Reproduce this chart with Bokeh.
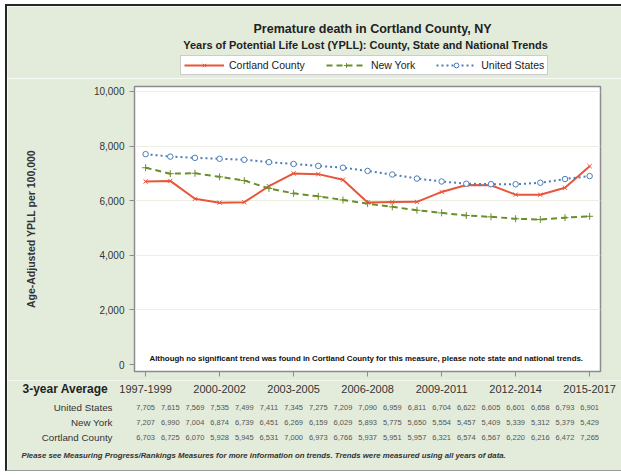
from bokeh.plotting import figure
from bokeh.layouts import column
from bokeh.models import (Range1d, FixedTicker, Legend, LegendItem,
                          NumeralTickFormatter, ColumnDataSource)
from bokeh.embed import file_html
from bokeh.resources import INLINE

periods = ["1997-1999", "1998-2000", "1999-2001", "2000-2002", "2001-2003",
           "2002-2004", "2003-2005", "2004-2006", "2005-2007", "2006-2008",
           "2007-2009", "2008-2010", "2009-2011", "2010-2012", "2011-2013",
           "2012-2014", "2013-2015", "2014-2016", "2015-2017"]
united_states = [7705, 7615, 7569, 7535, 7499, 7411, 7345, 7275, 7209, 7090,
                 6959, 6811, 6704, 6622, 6605, 6601, 6658, 6793, 6901]
new_york = [7207, 6990, 7004, 6874, 6739, 6451, 6269, 6159, 6029, 5893,
            5775, 5650, 5554, 5457, 5409, 5339, 5312, 5379, 5429]
cortland = [6703, 6725, 6070, 5928, 5945, 6531, 7000, 6973, 6766, 5937,
            5951, 5957, 6321, 6574, 6567, 6220, 6216, 6472, 7265]
series_names = ["United States", "New York", "Cortland County"]
y_ticks = [0, 2000, 4000, 6000, 8000, 10000]

idx = list(range(len(periods)))
label_idx = idx[::3]

BG = "#e3ecdb"
RED = "#e8553a"
GREEN = "#6a8f2a"
BLUE = "#4c7db5"
FONT = "Liberation Sans"
F = {"value": FONT}

W = 614
FRAME_L, FRAME_R = 127, 593
X0, X1 = -0.45, 18.44
PX = (FRAME_R - FRAME_L) / (X1 - X0)
Y0, Y1 = -255, 10182


def line_styles(fig, xs, ys_c, ys_n, ys_u):
    rc = (fig.line(xs, ys_c, line_color=RED, line_width=2),
          fig.scatter(xs, ys_c, marker="x", size=6, line_color=RED, line_width=1))
    rn = (fig.line(xs, ys_n, line_color=GREEN, line_width=2, line_dash="6 4"),
          fig.scatter(xs, ys_n, marker="cross", size=7, line_color=GREEN, line_width=1))
    ru = (fig.line(xs, ys_u, line_color=BLUE, line_width=2, line_dash="2 3"),
          fig.scatter(xs, ys_u, marker="circle", size=5.5, line_color=BLUE,
                      fill_color="white", line_width=1))
    return rc, rn, ru


# ---------------- header: titles + legend ----------------
HT = 72
t = figure(width=W, height=HT, output_backend="svg", toolbar_location=None, title=None,
           x_range=Range1d(0, W), y_range=Range1d(HT, 0), min_border=0,
           background_fill_color=BG, border_fill_color=BG, outline_line_color=None)
t.axis.visible = False
t.grid.visible = False
t.text(x=[365], y=[22], text=["Premature death in Cortland County, NY"], text_font=F,
       text_font_size="12.5px", text_font_style="bold", text_color="#222222",
       text_align="center", text_baseline="middle")
t.text(x=[358], y=[38],
       text=["Years of Potential Life Lost (YPLL): County, State and National Trends"],
       text_font=F, text_font_size="11px", text_font_style="bold", text_color="#222222",
       text_align="center", text_baseline="middle")
# legend renderers carry the real series; their values lie outside this header's range
lc, ln, lu = line_styles(t, idx, cortland, new_york, united_states)
legend = Legend(items=[
    LegendItem(label=series_names[2], renderers=list(lc)),
    LegendItem(label=series_names[1], renderers=list(ln)),
    LegendItem(label=series_names[0], renderers=list(lu)),
], orientation="horizontal", location=(173, 3), glyph_width=40, glyph_height=12,
    label_text_font=FONT, label_text_font_size="10.5px", label_text_color="#222222",
    label_standoff=5, spacing=21, padding=3, margin=0, border_line_color="#999999",
    background_fill_color="white", background_fill_alpha=1.0, label_height=12)
t.add_layout(legend, "center")

# ---------------- main chart ----------------
HM = 302
p = figure(width=W, height=HM, output_backend="svg", toolbar_location=None, title=None,
           x_range=Range1d(X0, X1), y_range=Range1d(Y0, Y1),
           min_border_left=FRAME_L, min_border_right=W - FRAME_R, min_border_top=8,
           min_border_bottom=7, background_fill_color="white",
           border_fill_color=BG, outline_line_color="#8c8c8c", outline_line_width=1.5)

p.xgrid.grid_line_color = None
p.ygrid.grid_line_color = "#eceee2"
p.ygrid.ticker = FixedTicker(ticks=y_ticks[1:])

p.yaxis.ticker = FixedTicker(ticks=y_ticks)
p.yaxis.formatter = NumeralTickFormatter(format="0,0")
p.yaxis.axis_label = "Age-Adjusted YPLL per 100,000"
p.yaxis.axis_label_text_font = FONT
p.yaxis.axis_label_text_font_style = "bold"
p.yaxis.axis_label_text_font_size = "10.5px"
p.yaxis.axis_label_text_color = "#333333"
p.yaxis.axis_label_standoff = 54
p.yaxis.major_label_text_font = FONT
p.yaxis.major_label_text_font_size = "10px"
p.yaxis.major_label_text_color = "#333333"
p.yaxis.major_tick_in = 0
p.yaxis.major_tick_out = 5
p.yaxis.minor_tick_line_color = None
p.yaxis.axis_line_color = "#8c8c8c"
p.yaxis.major_tick_line_color = "#8c8c8c"

p.xaxis.ticker = FixedTicker(ticks=label_idx)
p.xaxis.major_label_overrides = {i: " " for i in label_idx}
p.xaxis.major_label_text_font_size = "1px"
p.xaxis.major_label_standoff = 0
p.xaxis.major_tick_in = 0
p.xaxis.major_tick_out = 5
p.xaxis.minor_tick_line_color = None
p.xaxis.axis_line_color = "#8c8c8c"
p.xaxis.major_tick_line_color = "#8c8c8c"

line_styles(p, idx, cortland, new_york, united_states)

p.text(x=[(X0 + X1) / 2 - 0.05], y=[Y0 + 13 * (Y1 - Y0) / 287],
       text=["Although no significant trend was found in Cortland County for this measure, please note state and national trends."],
       text_font=F, text_font_size="7.9px", text_font_style="bold",
       text_color="#111111", text_align="center", text_baseline="middle")

# ---------------- table below ----------------
HB = 464 - HT - HM
q = figure(width=W, height=HB, output_backend="svg", toolbar_location=None, title=None,
           x_range=Range1d(X0 - FRAME_L / PX, X1 + (W - FRAME_R) / PX),
           y_range=Range1d(HB, 0), min_border=0, background_fill_color=BG,
           border_fill_color=BG, outline_line_color=None)
q.axis.visible = False
q.grid.visible = False
left_x = X0 - FRAME_L / PX

q.text(x=[left_x + 15 / PX], y=[8], text=["3-year Average"], text_font=F,
       text_font_size="12px", text_font_style="bold", text_color="#222222",
       text_align="left", text_baseline="middle")
q.text(x=label_idx, y=[8] * len(label_idx), text=[periods[i] for i in label_idx],
       text_font=F, text_font_size="11px", text_color="#333333",
       text_align="center", text_baseline="middle")

row_vals = [united_states, new_york, cortland]
row_y = [27, 42, 57]
for name, vals, ry in zip(series_names, row_vals, row_y):
    q.text(x=[left_x + 105 / PX], y=[ry], text=[name], text_font=F,
           text_font_size="9.8px", text_color="#333333", text_align="right",
           text_baseline="middle")
    src = ColumnDataSource(dict(x=idx, y=[ry] * len(idx), t=[f"{v:,}" for v in vals]))
    q.text(x="x", y="y", text="t", source=src, text_font=F,
           text_font_size="7.5px", text_color="#555555", text_align="center",
           text_baseline="middle")

q.text(x=[left_x + 14 / PX], y=[75],
       text=["Please see Measuring Progress/Rankings Measures for more information on trends. Trends were measured using all years of data."],
       text_font=F, text_font_size="7.8px", text_font_style="bold italic",
       text_color="#333333", text_align="left", text_baseline="middle")

layout = column(column(t), column(p), column(q), spacing=0,
                styles={"margin-left": "5px", "margin-top": "4px",
                        "border-left": "2px solid #262626",
                        "border-top": "2px solid #262626",
                        "border-bottom": "1px solid #9a9a9a"})
open("out.html", "w").write(file_html(layout, INLINE))
